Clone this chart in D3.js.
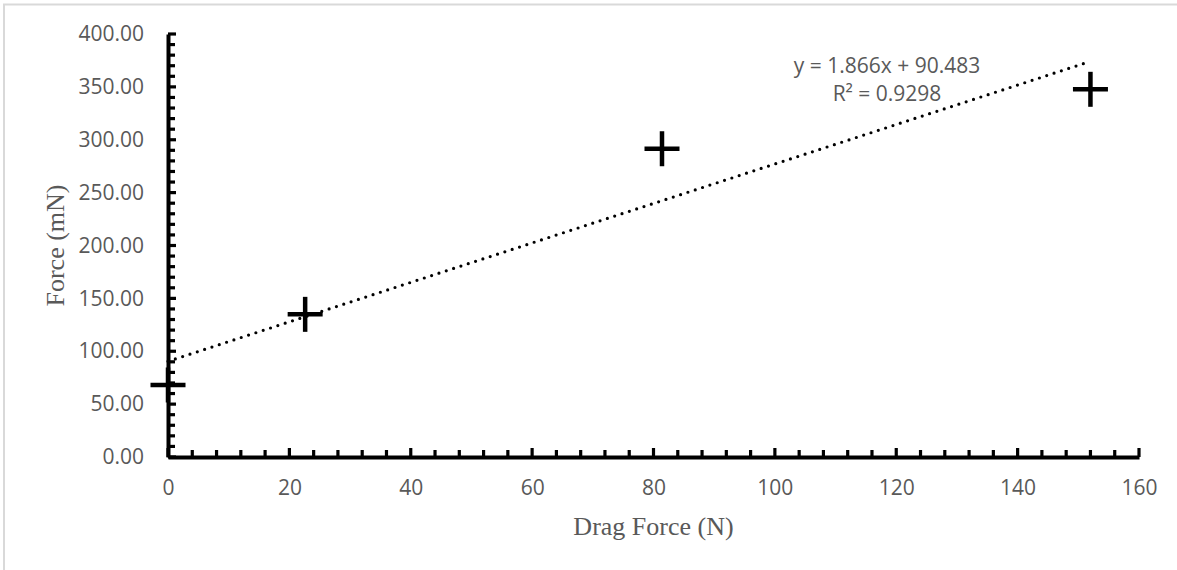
<!DOCTYPE html>
<html>
<head>
<meta charset="utf-8">
<script src="https://cdn.jsdelivr.net/npm/d3@7"></script>
<style>
  html, body { margin: 0; padding: 0; background: #fff; }
  svg { display: block; }
</style>
</head>
<body>
<svg id="chart" width="1177" height="570"></svg>
<script>
// Measured drag force (N) against recorded force (mN)
const dragForce = [0, 22.6, 81.4, 152.0];
const force = [68.1, 134.9, 291.5, 347.7];

// Linear trendline coefficients and label text
const trendSlope = 1.866;
const trendIntercept = 90.483;
const trendLabels = ["y = 1.866x + 90.483", "R\u00B2 = 0.9298"];

const xTicks = [0, 20, 40, 60, 80, 100, 120, 140, 160];
const yTicks = [0, 50, 100, 150, 200, 250, 300, 350, 400];
const xTitle = "Drag Force (N)";
const yTitle = "Force (mN)";

const svg = d3.select("#chart");
const W = 1177, H = 570;
const m = { left: 168, right: 1139, top: 34, bottom: 457 };

const x = d3.scaleLinear().domain([0, 160]).range([m.left, m.right]);
const y = d3.scaleLinear().domain([0, 400]).range([m.bottom, m.top]);

const textGray = "#595959";
const sans = "'Open Sans', 'Liberation Sans', sans-serif";
const serif = "'Liberation Serif', 'DejaVu Serif', serif";

// chart frame
svg.append("rect")
  .attr("x", 4).attr("y", 4.5)
  .attr("width", W + 20).attr("height", H + 20)
  .attr("fill", "#fff").attr("stroke", "#d9d9d9").attr("stroke-width", 2);

// minor and major ticks (inward)
const xMinor = d3.range(0, 160.001, 4);
const yMinor = d3.range(0, 400.001, 10);

svg.append("g").selectAll("line").data(xMinor).join("line")
  .attr("x1", d => x(d)).attr("x2", d => x(d))
  .attr("y1", m.bottom).attr("y2", d => m.bottom - (d % 20 === 0 ? 9 : 7))
  .attr("stroke", "#000").attr("stroke-width", 3.2);

svg.append("g").selectAll("line").data(yMinor).join("line")
  .attr("y1", d => y(d)).attr("y2", d => y(d))
  .attr("x1", m.left).attr("x2", d => m.left + (d % 50 === 0 ? 8 : 7))
  .attr("stroke", "#000").attr("stroke-width", 3.2);

// axes
const xAxis = d3.axisBottom(x).tickValues(xTicks).tickSize(0).tickPadding(23).tickFormat(d3.format("d"));
const gx = svg.append("g").attr("transform", `translate(0,${m.bottom})`).call(xAxis);
gx.select(".domain").attr("stroke", "#000").attr("stroke-width", 4);
gx.selectAll("text").attr("font-family", sans).attr("font-size", 21).attr("fill", textGray);

const yAxis = d3.axisLeft(y).tickValues(yTicks).tickSize(0).tickPadding(24).tickFormat(d3.format(".2f"));
const gy = svg.append("g").attr("transform", `translate(${m.left},0)`).call(yAxis);
gy.select(".domain").attr("stroke", "#000").attr("stroke-width", 4);
gy.selectAll("text").attr("font-family", sans).attr("font-size", 21).attr("fill", textGray);

// dotted linear trendline across the data range
const x0 = d3.min(dragForce), x1 = d3.max(dragForce);
svg.append("line")
  .attr("x1", x(x0)).attr("y1", y(trendSlope * x0 + trendIntercept))
  .attr("x2", x(x1)).attr("y2", y(trendSlope * x1 + trendIntercept))
  .attr("stroke", "#000").attr("stroke-width", 3.2)
  .attr("stroke-linecap", "round").attr("stroke-dasharray", "0 7.7");

// plus markers
const arm = 17.5;
const pts = dragForce.map((d, i) => [d, force[i]]);
const mk = svg.append("g");
pts.forEach(([dx, dy]) => {
  const cx = x(dx), cy = y(dy);
  mk.append("line").attr("x1", cx - arm).attr("x2", cx + arm).attr("y1", cy).attr("y2", cy)
    .attr("stroke", "#000").attr("stroke-width", 4.5);
  mk.append("line").attr("x1", cx).attr("x2", cx).attr("y1", cy - arm).attr("y2", cy + arm)
    .attr("stroke", "#000").attr("stroke-width", 4.5);
});

// trendline label
svg.append("text")
  .attr("x", 887).attr("y", 72.5)
  .attr("text-anchor", "middle")
  .attr("font-family", sans).attr("font-size", 21).attr("fill", textGray)
  .selectAll("tspan").data(trendLabels).join("tspan")
  .attr("x", 887).attr("dy", (d, i) => i === 0 ? 0 : 28.5)
  .text(d => d);

// axis titles
svg.append("text")
  .attr("x", (m.left + m.right) / 2).attr("y", 535)
  .attr("text-anchor", "middle")
  .attr("font-family", serif).attr("font-size", 26).attr("fill", textGray)
  .text(xTitle);

svg.append("text")
  .attr("transform", `translate(64,${(m.top + m.bottom) / 2}) rotate(-90)`)
  .attr("text-anchor", "middle")
  .attr("font-family", serif).attr("font-size", 26).attr("fill", textGray)
  .text(yTitle);
</script>
</body>
</html>
